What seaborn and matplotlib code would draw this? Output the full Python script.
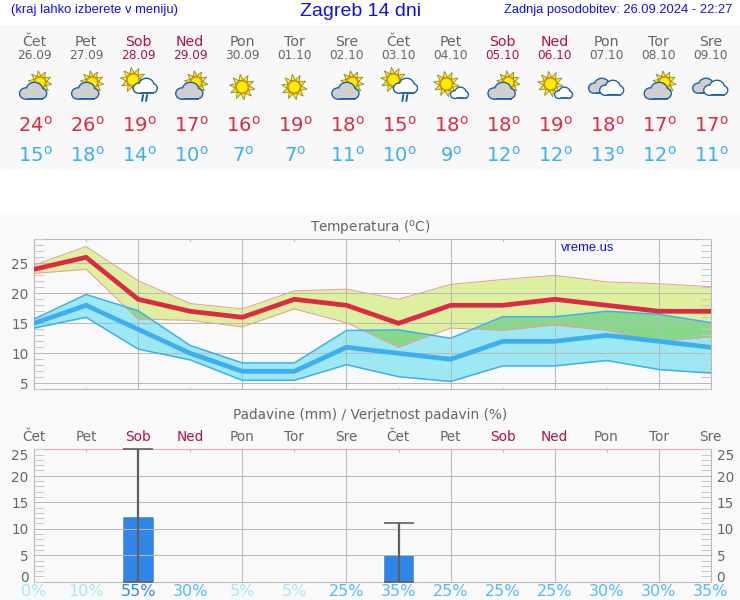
import numpy as np
import pandas as pd
import matplotlib
matplotlib.use("Agg")
import matplotlib.pyplot as plt
from matplotlib.patches import Circle, Ellipse, Polygon, Rectangle
from matplotlib.ticker import MultipleLocator
import seaborn as sns

# podatki
dni = ["Čet", "Pet", "Sob", "Ned", "Pon", "Tor", "Sre", "Čet", "Pet", "Sob", "Ned", "Pon", "Tor", "Sre"]
datumi = ["26.09", "27.09", "28.09", "29.09", "30.09", "01.10", "02.10",
          "03.10", "04.10", "05.10", "06.10", "07.10", "08.10", "09.10"]
ikone = ["pc", "pc", "sr", "pc", "s", "s", "pc", "sr", "sc", "pc", "sc", "c", "pc", "c"]
t_max = [24, 26, 19, 17, 16, 19, 18, 15, 18, 18, 19, 18, 17, 17]
t_min = [15, 18, 14, 10, 7, 7, 11, 10, 9, 12, 12, 13, 12, 11]
max_zg = [24.7, 27.8, 22.1, 18.3, 17.4, 20.4, 20.7, 19.0, 21.5, 22.3, 23.0, 21.9, 21.6, 21.1]
max_sp = [23.3, 24.0, 15.7, 15.5, 14.4, 17.4, 15.1, 11.0, 14.2, 13.8, 14.7, 13.8, 12.0, 12.7]
min_zg = [15.7, 19.8, 17.1, 11.3, 8.4, 8.4, 13.8, 13.9, 12.5, 16.1, 16.1, 17.0, 16.5, 15.1]
min_sp = [14.2, 16.0, 10.7, 8.9, 5.5, 5.5, 8.1, 6.1, 5.3, 7.9, 7.9, 8.8, 7.3, 6.7]
padavine = [0, 0, 12.5, 0, 0, 0, 0, 5.2, 0, 0, 0, 0, 0, 0]
pad_zg = [0, 0, 25, 0, 0, 0, 0, 11.1, 0, 0, 0, 0, 0, 0]
verjetnost = [0, 10, 55, 30, 5, 5, 25, 35, 25, 25, 25, 30, 30, 35]

sns.set_style("white")
plt.rcParams["font.family"] = ["DejaVu Sans"]

SIVA = "#666666"
VIKEND = "#b0104f"
RDECA = "#dc2a44"
MODRA = "#3daef0"
MREZA = "#b8b8b8"
OZADJE = "#f9f9f9"
HELV = "Liberation Sans"
OBRIS = "#1f5fa8"

x = np.arange(14)
df = pd.DataFrame({"x": x, "tmax": t_max, "tmin": t_min, "pad": padavine})


def barva_dne(d):
    return VIKEND if d in ("Sob", "Ned") else SIVA


def barva_pct(p):
    if p >= 50:
        return "#3088e8"
    if p >= 25:
        return "#50bcf8"
    return "#a4e8f8"


fig = plt.figure(figsize=(7.4, 6), dpi=100, facecolor="white")

# ozadje in besedila v pikslih
bg = fig.add_axes([0, 0, 1, 1], zorder=0)
bg.set_xlim(0, 740)
bg.set_ylim(600, 0)
bg.axis("off")
bg.axhspan(25, 170, color="#f8f8f8", lw=0)
bg.axhspan(215, 600, color=OZADJE, lw=0)


def sonce(cx, cy, r, z=3):
    for a in np.arange(9, 369, 36):
        s, c = np.sin(np.radians(a)), np.cos(np.radians(a))
        s2, c2 = np.sin(np.radians(a + 90)), np.cos(np.radians(a + 90))
        tip = (cx + c * r * 2.15, cy + s * r * 2.15)
        p1 = (cx + c * r * 1.1 + c2 * 2.2, cy + s * r * 1.1 + s2 * 2.2)
        p2 = (cx + c * r * 1.1 - c2 * 2.2, cy + s * r * 1.1 - s2 * 2.2)
        bg.add_patch(Polygon([tip, p1, p2], fc="#f8ea20", ec="#8a8a30", lw=0.6, zorder=z))
    bg.add_patch(Circle((cx, cy), r, fc="#fcf000", ec="#e88a10", lw=1.0, zorder=z + 0.1))


def oblak(cx, cy, w, fc="#cfcfcf", z=4):
    # obris, nato polnilo
    deli = [(-0.28, 0.1, 0.46, 0.4), (0.06, -0.04, 0.62, 0.56), (0.33, 0.1, 0.38, 0.36)]
    h = w * 0.18
    for lw, barva, zz in ((2.0, OBRIS, z), (0, fc, z + 0.1)):
        for dx, dy, a, b in deli:
            bg.add_patch(Ellipse((cx + dx * w, cy + dy * w), a * w, b * w, fc=barva, ec=barva, lw=lw, zorder=zz))
        bg.add_patch(Rectangle((cx - 0.28 * w, cy + 0.1 * w), 0.61 * w, h, fc=barva, ec=barva, lw=lw, zorder=zz))


def ikona(vrsta, cx, cy):
    if vrsta == "s":
        sonce(cx, cy, 6)
    elif vrsta == "pc":
        sonce(cx + 6, cy - 4.5, 5.5)
        oblak(cx - 1, cy + 4, 25)
    elif vrsta == "sc":
        sonce(cx - 4, cy - 3, 6)
        oblak(cx + 9, cy + 6, 16, fc="white")
    elif vrsta == "sr":
        sonce(cx - 5, cy - 7, 6)
        oblak(cx + 7, cy - 1, 22, fc="white")
        for dx in (4, 8):
            bg.plot([cx + dx + 1, cx + dx], [cy + 8, cy + 14], color=OBRIS, lw=1.4, zorder=6)
    else:
        oblak(cx - 6, cy - 1, 22, fc="#cfcfcf")
        oblak(cx + 5, cy + 1, 22, fc="white", z=5)


xpx = [34 + 52.05 * i for i in x]
for i in x:
    px = xpx[i]
    bg.text(px, 42, dni[i], ha="center", va="center", fontsize=10.2, color=barva_dne(dni[i]))
    bg.text(px, 55.5, datumi[i], ha="center", va="center", fontsize=8.7, color=barva_dne(dni[i]))
    ikona(ikone[i], px, 87)
    bg.text(px + 1, 125.5, f"{t_max[i]}$^{{\\mathrm{{o}}}}$", ha="center", va="center", fontsize=14, color=RDECA)
    bg.text(px + 1, 155.5, f"{t_min[i]}$^{{\\mathrm{{o}}}}$", ha="center", va="center", fontsize=14, color=MODRA)
    bg.text(px, 437, dni[i], ha="center", va="center", fontsize=9.8, color=barva_dne(dni[i]))
    bg.text(px, 591, f"{verjetnost[i]}%", ha="center", va="center", fontsize=11.5, color=barva_pct(verjetnost[i]))

bg.text(11, 9.5, "(kraj lahko izberete v meniju)", ha="left", va="center", fontsize=9.35, color="#1010ee", family=HELV)
bg.text(361, 11.5, "Zagreb 14 dni", ha="center", va="center", fontsize=14, color="#1010ee", family=HELV)
bg.text(732, 9.5, "Zadnja posodobitev: 26.09.2024 - 22:27", ha="right", va="center", fontsize=9.3, color="#1010ee", family=HELV)
bg.text(370, 228, "Temperatura ($^{\\mathrm{o}}$C)", ha="center", va="center", fontsize=9.8, color=SIVA)
bg.text(370, 415, "Padavine (mm) / Verjetnost padavin (%)", ha="center", va="center", fontsize=9.8, color=SIVA)


def okvir(ax, barva_zg=MREZA):
    ax.set_facecolor("none")
    ax.set_xlim(0, 13)
    ax.set_xticks(x[2::2])
    ax.grid(True, color=MREZA, lw=0.72, zorder=2)
    ax.set_axisbelow(False)
    for s in ax.spines.values():
        s.set_color(MREZA)
        s.set_linewidth(0.8)
    ax.spines["top"].set_color(barva_zg)
    ax.tick_params(axis="x", length=0, labelbottom=False)
    ax.yaxis.set_minor_locator(MultipleLocator(1))
    ax.tick_params(axis="y", which="minor", length=7.5, width=0.72, color="#c8c8c8",
                   direction="in", left=True, right=True)
    ax.tick_params(axis="y", which="major", length=0)
    ax.set_xlabel("")
    ax.set_ylabel("")


# temperatura
ax1 = fig.add_axes([34 / 740, 1 - 389.3 / 600, 677 / 740, 150 / 600], zorder=2)
rdec_pas = ax1.fill_between(x, max_sp, max_zg, color="#dcf0a0", lw=0, zorder=1)
moder_pas = ax1.fill_between(x, min_sp, min_zg, color="#9de8f2", lw=0, zorder=1.1)
presek = ax1.fill_between(x, min_sp, min_zg, color="#88d88c", lw=0, zorder=1.2)
presek.set_clip_path(rdec_pas.get_paths()[0], transform=rdec_pas.get_transform())
ax1.plot(x, max_zg, color="#ec9a98", lw=0.7, zorder=3)
ax1.plot(x, max_sp, color="#ec9a98", lw=0.7, zorder=3)
ax1.plot(x, min_zg, color=MODRA, lw=1.1, zorder=3)
ax1.plot(x, min_sp, color=MODRA, lw=1.1, zorder=3)
sns.lineplot(data=df, x="x", y="tmin", color=MODRA, lw=3.4, ax=ax1, zorder=4, solid_joinstyle="miter", errorbar=None)
sns.lineplot(data=df, x="x", y="tmax", color=RDECA, lw=3.4, ax=ax1, zorder=5, solid_joinstyle="miter", errorbar=None)
ax1.set_ylim(4, 29)
ax1.set_yticks([5, 10, 15, 20, 25])
okvir(ax1)
ax1.set_yticklabels([])
for v in [5, 10, 15, 20, 25]:
    ax1.annotate(str(v), (0, v), xytext=(-4, -1.5), textcoords="offset points", ha="right", va="center",
                 fontsize=9.8, color=SIVA, annotation_clip=False)
for i in x[1::2]:
    ax1.plot([i, i], [4, 4.25], color=MREZA, lw=0.7, zorder=3)
    ax1.plot([i, i], [29, 28.75], color=MREZA, lw=0.7, zorder=3)
ax1.annotate("vreme.us", (561, 248), xycoords=bg.transData, ha="left", va="center", fontsize=9.4,
             color="#1010ee", family=HELV)

# padavine
ax2 = fig.add_axes([34 / 740, 1 - 581.7 / 600, 677 / 740, 132.4 / 600], zorder=2)
sns.barplot(data=df, x="x", y="pad", native_scale=True, width=0.61, color="#2f86e8", saturation=1,
            errorbar=None, ax=ax2, zorder=1)
for i in x:
    if padavine[i] > 0:
        ax2.errorbar(i, 0, yerr=[[0], [pad_zg[i]]], color="#5f5f5f", lw=1.6, capsize=11, capthick=1.2,
                     zorder=6, clip_on=False)
ax2.set_ylim(0, 25)
ax2.set_yticks([5, 10, 15, 20])
okvir(ax2, "#e4a4bc")
ax2.set_xlim(0, 13)
ax2.set_yticklabels([])
for v, dy in zip([0, 5, 10, 15, 20, 25], [3, -1.5, -1, -1.5, -1.5, -4.5]):
    ax2.annotate(str(v), (0, v), xytext=(-4, dy), textcoords="offset points", ha="right", va="center",
                 fontsize=9.8, color=SIVA, annotation_clip=False)
    ax2.annotate(str(v), (13, v), xytext=(4, dy), textcoords="offset points", ha="left", va="center",
                 fontsize=9.8, color=SIVA, annotation_clip=False)
for i in x[1::2]:
    ax2.plot([i, i], [25, 24.5], color="#e4a4bc", lw=0.7, zorder=3)

fig.savefig("out.png", dpi=100)
